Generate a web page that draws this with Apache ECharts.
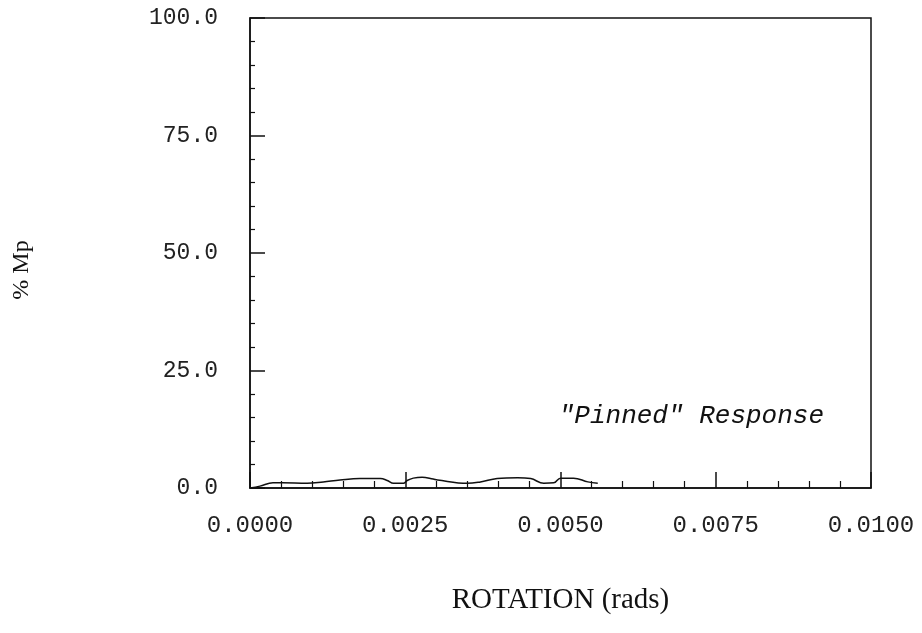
<!DOCTYPE html>
<html>
<head>
<meta charset="utf-8">
<script src="https://cdn.jsdelivr.net/npm/echarts@6/dist/echarts.min.js"></script>
<style>html,body{margin:0;padding:0;background:#fff;}#c{width:922px;height:633px;}</style>
</head>
<body>
<div id="c"></div>
<script>
const rotation = [0, 0.00016, 0.00037, 0.00052, 0.00092, 0.00118, 0.00145, 0.00177, 0.0021, 0.00221, 0.00231, 0.00247, 0.00253, 0.00263, 0.00277, 0.00295, 0.00302, 0.0035, 0.00371, 0.00398, 0.00431, 0.00452, 0.00473, 0.00489, 0.005, 0.00521, 0.00544, 0.0056];
const moment = [0, 0.4, 1.1, 1.1, 1.0, 1.3, 1.7, 2.0, 2.0, 1.6, 1.0, 1.0, 1.6, 2.1, 2.3, 1.9, 1.7, 1.0, 1.3, 2.0, 2.2, 2.0, 1.0, 1.1, 2.1, 2.1, 1.3, 1.0];
const xTicks = [0, 0.0025, 0.005, 0.0075, 0.01];
const yTicks = [0, 25, 50, 75, 100];
const xTitle = 'ROTATION (rads)';
const yTitle = '% Mp';
const note = '"Pinned" Response';

const pts = rotation.map((r, i) => [r, moment[i]]);
const chart = echarts.init(document.getElementById('c'), null, {renderer: 'canvas'});
const mono = '"Liberation Mono", monospace';
chart.setOption({
  animation: false,
  backgroundColor: '#fff',
  grid: {left: 250, right: 51, top: 18, bottom: 145, show: true, borderColor: '#111', borderWidth: 1.5, backgroundColor: 'transparent'},
  xAxis: {
    type: 'value', min: xTicks[0], max: xTicks[xTicks.length - 1], interval: xTicks[1] - xTicks[0],
    name: xTitle, nameLocation: 'middle', nameGap: 98,
    nameTextStyle: {fontFamily: '"Liberation Serif", serif', fontSize: 29, color: '#111'},
    axisLine: {show: true, onZero: false, lineStyle: {color: '#111', width: 1.5}},
    axisTick: {show: true, inside: true, length: 16, lineStyle: {color: '#111', width: 1.5}},
    minorTick: {show: true, splitNumber: 5, length: 7, lineStyle: {color: '#111', width: 1.2}},
    splitLine: {show: false}, minorSplitLine: {show: false},
    axisLabel: {margin: 26, showMinLabel: true, showMaxLabel: true, formatter: v => v.toFixed(4),
      fontFamily: mono, fontSize: 24, color: '#222'}
  },
  yAxis: {
    type: 'value', min: yTicks[0], max: yTicks[yTicks.length - 1], interval: yTicks[1] - yTicks[0],
    axisLine: {show: true, lineStyle: {color: '#111', width: 1.5}},
    axisTick: {show: true, inside: true, length: 15, lineStyle: {color: '#111', width: 1.5}},
    minorTick: {show: true, splitNumber: 5, length: 5, lineStyle: {color: '#111', width: 1.2}},
    splitLine: {show: false}, minorSplitLine: {show: false},
    axisLabel: {margin: 32, formatter: v => v.toFixed(1), fontFamily: mono, fontSize: 23, color: '#222'}
  },
  graphic: [{
    type: 'text', x: 22, y: 270, rotation: Math.PI / 2,
    style: {text: yTitle, align: 'center', verticalAlign: 'middle', fontFamily: '"Liberation Serif", serif', fontSize: 24, fill: '#111'}
  }, {
    type: 'text', x: 824, y: 416,
    style: {text: note, align: 'right', verticalAlign: 'middle', fontFamily: mono, fontStyle: 'italic', fontSize: 26, fill: '#111'}
  }],
  series: [{
    type: 'line', data: pts, smooth: 0.4, symbol: 'none',
    lineStyle: {color: '#111', width: 1.5}
  }]
});
</script>
</body>
</html>
